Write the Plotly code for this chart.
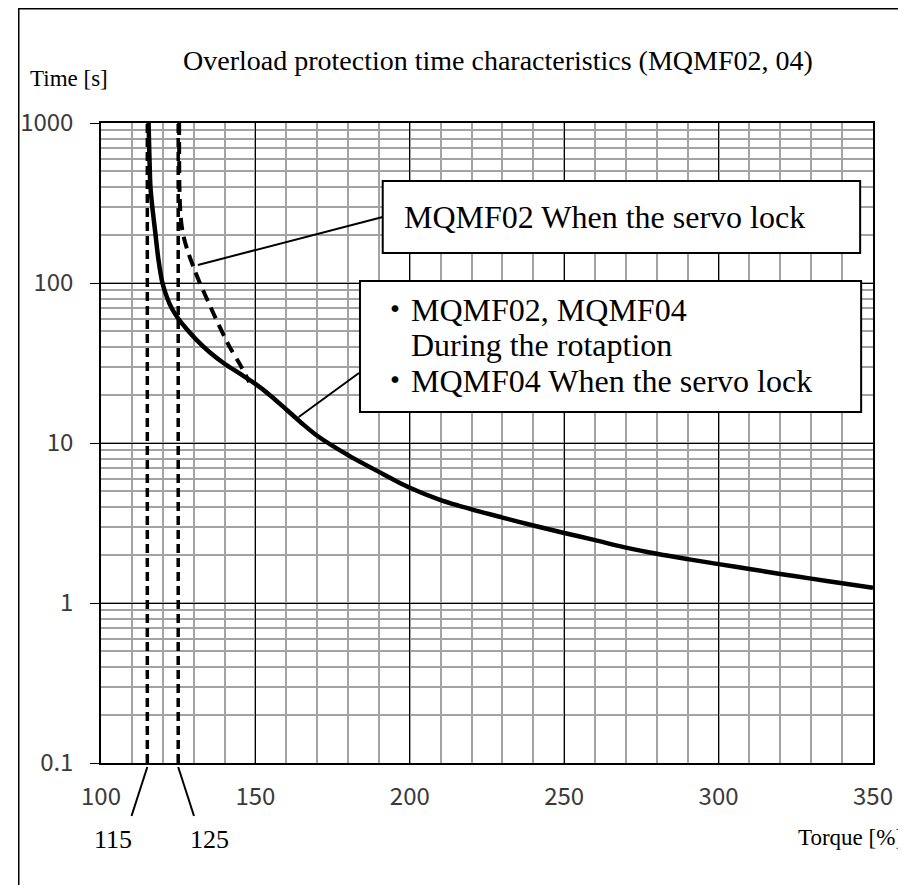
import plotly.graph_objects as go

# ---------------- data ----------------
x_ticks = [100, 150, 200, 250, 300, 350]
y_ticks = [0.1, 1, 10, 100, 1000]
y_ticktext = ["0.1", "1", "10", "100", "1000"]

# MQMF02/MQMF04 during rotation, MQMF04 servo lock (solid)
solid_x = [115.4, 115.7, 116.0, 116.6, 117.6, 118.6, 119.9, 121.5, 123.0, 125.0, 128.0, 131.0,
           135.0, 140.0, 145.0, 150.0, 155.0, 160.0, 165.0, 170.0, 180.0, 190.0, 200.0,
           210.0, 220.0, 230.0, 240.0, 250.0, 260.0, 270.0, 280.0, 290.0, 300.0, 310.0, 320.0,
           330.0, 340.0, 350.0]
solid_t = [1000, 600, 400, 300, 205, 140, 100, 80, 69, 60, 50.8, 44,
           37.2, 31.3, 27.1, 23.4, 19.7, 16.2, 13.3, 11.1, 8.4, 6.6, 5.25,
           4.4, 3.85, 3.42, 3.05, 2.74, 2.47, 2.22, 2.03, 1.88, 1.75, 1.63, 1.52,
           1.42, 1.33, 1.245]

# MQMF02 servo lock (dashed)
servo_x = [125.3, 125.4, 125.8, 126.5, 128.0, 130.0, 132.0, 134.5, 137.0, 141.6, 145.0, 148.0]
servo_t = [1000, 400, 260, 205, 160, 125, 100, 78, 61, 40, 31, 24]

# asymptote torques
asym_x = [115, 125]
asym_labels = ["115", "125"]

title_text = "Overload protection time characteristics (MQMF02, 04)"
ylabel_text = "Time [s]"
xlabel_text = "Torque [%]"
box1_text = "MQMF02 When the servo lock"
box2_lines = ["・MQMF02, MQMF04", "During the rotaption", "・MQMF04 When the servo lock"]

# ---------------- layout helpers ----------------
OFF = 8  # page body margin
W, H = 898, 877
L, R, T, B = 84, 33, 115, 122
PW, PH = W - L - R, H - T - B


def px_x(sx):
    return (sx - OFF - L) / PW


def px_y(sy):
    return (H - B - (sy - OFF)) / PH


def fx(sx):
    return 100 + (sx - OFF - L) / PW * 250


def fy(sy):
    return 10 ** (3 - (sy - OFF - T) / PH * 4)


SERIF = "Liberation Serif, Noto Sans CJK JP, serif"
TICKFONT = dict(family="Noto Sans CJK JP, DejaVu Sans Mono, sans-serif", size=24, color="#3a3a3a")

fig = go.Figure()

for xv in asym_x:
    fig.add_trace(go.Scatter(x=[xv, xv], y=[0.1, 1000], mode="lines",
                             line=dict(color="black", width=3.5, dash="9px,5px"),
                             hoverinfo="skip"))

fig.add_trace(go.Scatter(x=servo_x, y=servo_t, mode="lines", line_shape="spline",
                         line=dict(color="black", width=4, dash="12px,7px", smoothing=0.8),
                         hoverinfo="skip"))
fig.add_trace(go.Scatter(x=solid_x, y=solid_t, mode="lines", line_shape="spline",
                         line=dict(color="black", width=4.5, smoothing=0.8), hoverinfo="skip"))

fig.update_layout(
    width=W, height=H,
    margin=dict(l=L, r=R, t=T, b=B),
    paper_bgcolor="white", plot_bgcolor="white",
    showlegend=False,
)

fig.update_xaxes(
    range=[100, 350], tickvals=x_ticks, ticktext=[str(v) for v in x_ticks],
    showgrid=True, gridcolor="black", gridwidth=1.2,
    minor=dict(dtick=10, showgrid=True, gridcolor="#a3a3a3", gridwidth=1.6, ticks=""),
    ticks="", ticklabelstandoff=11, tickfont=TICKFONT,
    showline=True, linecolor="black", linewidth=1.5, mirror=True, zeroline=False,
)
fig.update_yaxes(
    type="log", range=[-1, 3], tickvals=y_ticks, ticktext=y_ticktext,
    showgrid=True, gridcolor="black", gridwidth=1.2,
    minor=dict(dtick="D1", showgrid=True, gridcolor="#a3a3a3", gridwidth=1.6, ticks=""),
    ticks="outside", ticklen=9, tickcolor="black", tickwidth=1.2,
    ticklabelstandoff=12, tickfont=TICKFONT,
    showline=True, linecolor="black", linewidth=1.5, mirror=True, zeroline=False,
)

shapes = []
# outer frame (only top and left edges fall inside the canvas)
shapes.append(dict(type="rect", xref="paper", yref="paper",
                   x0=px_x(OFF + 0.8), x1=px_x(1100), y0=px_y(1100), y1=px_y(OFF + 0.8),
                   line=dict(color="black", width=1.5), fillcolor="rgba(0,0,0,0)", layer="below"))
# label boxes
shapes.append(dict(type="rect", xref="x", yref="y", x0=fx(377), x1=fx(860), y0=fy(253), y1=fy(181),
                   line=dict(color="black", width=2), fillcolor="white"))
shapes.append(dict(type="rect", xref="x", yref="y", x0=fx(354), x1=fx(861), y0=fy(412), y1=fy(281),
                   line=dict(color="black", width=2), fillcolor="white"))
# leader lines
shapes.append(dict(type="line", xref="x", yref="y", x0=fx(377), y0=fy(217), x1=fx(190), y1=fy(265),
                   line=dict(color="black", width=2)))
shapes.append(dict(type="line", xref="x", yref="y", x0=fx(353), y0=fy(373), x1=fx(292), y1=fy(417),
                   line=dict(color="black", width=2)))
# asymptote label leaders (below plot, paper coords)
for xv, dx in zip(asym_x, [-16, 16]):
    x0p = (xv - 100) / 250
    shapes.append(dict(type="line", xref="paper", yref="paper",
                       x0=x0p, y0=px_y(767), x1=x0p + dx / PW, y1=px_y(816),
                       line=dict(color="black", width=2)))
fig.update_layout(shapes=shapes)

ann = []
ann.append(dict(text=title_text, x=px_x(494), y=px_y(60), xref="paper", yref="paper",
                showarrow=False, xanchor="center", yanchor="middle",
                font=dict(family=SERIF, size=28, color="black")))
ann.append(dict(text=ylabel_text, x=px_x(60), y=px_y(78), xref="paper", yref="paper",
                showarrow=False, xanchor="center", yanchor="middle",
                font=dict(family=SERIF, size=23, color="black")))
ann.append(dict(text=xlabel_text, x=px_x(850), y=px_y(837), xref="paper", yref="paper",
                showarrow=False, xanchor="center", yanchor="middle",
                font=dict(family=SERIF, size=23, color="black")))
for lab, cx in zip(asym_labels, [104, 202]):
    ann.append(dict(text=lab, x=px_x(cx), y=px_y(839), xref="paper", yref="paper",
                    showarrow=False, xanchor="center", yanchor="middle",
                    font=dict(family=SERIF, size=26, color="black")))
ann.append(dict(text=box1_text, x=px_x(397), y=px_y(217), xref="paper", yref="paper",
                showarrow=False, xanchor="left", yanchor="middle",
                font=dict(family=SERIF, size=32, color="black")))
for line, lx, ly in zip(box2_lines, [371, 404, 371], [310, 345, 381]):
    ann.append(dict(text=line, x=px_x(lx), y=px_y(ly), xref="paper", yref="paper",
                    showarrow=False, xanchor="left", yanchor="middle",
                    font=dict(family=SERIF, size=32, color="black")))
fig.update_layout(annotations=ann)

fig.write_html("out.html")
